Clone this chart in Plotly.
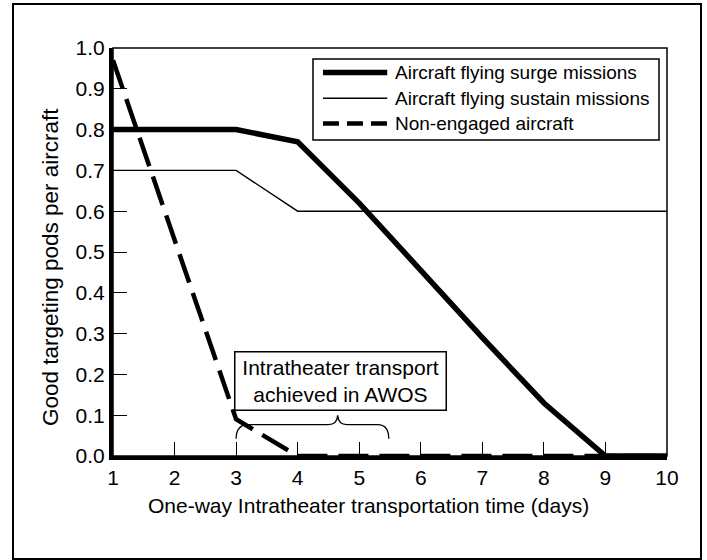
import plotly.graph_objects as go

# ---- data ----
days = [1, 2, 3, 4, 5, 6, 7, 8, 9, 10]
surge = [0.80, 0.80, 0.80, 0.77, 0.62, 0.455, 0.29, 0.13, 0.0, 0.0]
sustain = [0.70, 0.70, 0.70, 0.60, 0.60, 0.60, 0.60, 0.60, 0.60, 0.60]
non_engaged = [0.97, 0.53, 0.09, 0.0, 0.0, 0.0, 0.0, 0.0, 0.0, 0.0]
series_names = ["Aircraft flying surge missions",
                "Aircraft flying sustain missions",
                "Non-engaged aircraft"]
x_ticks = [1, 2, 3, 4, 5, 6, 7, 8, 9, 10]
y_ticks = [0.0, 0.1, 0.2, 0.3, 0.4, 0.5, 0.6, 0.7, 0.8, 0.9, 1.0]
x_title = "One-way Intratheater transportation time (days)"
y_title = "Good targeting pods per aircraft"
note_text = "Intratheater transport<br>achieved in AWOS"
note_pos = (4.70, 0.183)

FONT = "Liberation Sans, Arial, Helvetica, sans-serif"
DASH = "30px,11px"

styles = [dict(width=5.5, dash="solid"),
          dict(width=1.4, dash="solid"),
          dict(width=4.5, dash=DASH)]

fig = go.Figure()
for name, ys, st in zip(series_names, [surge, sustain, non_engaged], styles):
    fig.add_trace(go.Scatter(x=days, y=ys, mode="lines", name=name,
                             line=dict(color="black", width=st["width"], dash=st["dash"]),
                             showlegend=False, hoverinfo="skip"))

shapes = []
# outer frame
shapes.append(dict(type="rect", xref="paper", yref="paper",
                   x0=-0.1805, x1=1.0614, y0=-0.2525, y1=1.1078,
                   line=dict(color="black", width=2)))
# plot border (top/right thin)
shapes.append(dict(type="rect", xref="paper", yref="paper",
                   x0=0, x1=1, y0=0, y1=1, line=dict(color="black", width=1.5)))
# legend box
lx0, lx1, ly0, ly1 = 0.361, 0.9856, 0.7745, 0.973
shapes.append(dict(type="rect", xref="paper", yref="paper",
                   x0=lx0, x1=lx1, y0=ly0, y1=ly1,
                   line=dict(color="black", width=1.5), fillcolor="white", layer="below"))
row_y = [0.940, 0.877, 0.815]
legend_dash = ["solid", "solid", "16px,8px"]
for ry, st, ld in zip(row_y, styles, legend_dash):
    shapes.append(dict(type="line", xref="paper", yref="paper",
                       x0=0.379, x1=0.495, y0=ry, y1=ry,
                       line=dict(color="black", width=st["width"], dash=ld)))
# brace under the note
shapes.append(dict(type="path", xref="x", yref="y",
                   path="M 3.0,0.042 Q 3.0,0.077 3.2,0.077 L 4.5,0.077 Q 4.64,0.077 4.65,0.10 "
                        "Q 4.66,0.077 4.8,0.077 L 5.3,0.077 Q 5.48,0.077 5.48,0.042",
                   line=dict(color="black", width=1.3)))

annotations = []
for ry, name in zip(row_y, series_names):
    annotations.append(dict(xref="paper", yref="paper", x=0.506, y=ry, text=name,
                            showarrow=False, xanchor="left", yanchor="middle",
                            font=dict(family=FONT, size=19, color="black")))
annotations.append(dict(xref="x", yref="y", x=note_pos[0], y=note_pos[1], text=note_text,
                        showarrow=False, font=dict(family=FONT, size=21, color="black"),
                        bordercolor="black", borderwidth=1.5, borderpad=3,
                        bgcolor="white", width=204, height=51, align="center"))
# axis titles
annotations.append(dict(xref="paper", yref="paper", x=0.462, y=-0.1225, text=x_title,
                        showarrow=False, xanchor="center", yanchor="middle",
                        font=dict(family=FONT, size=21, color="black")))
annotations.append(dict(xref="paper", yref="paper", x=-0.1137, y=0.463, text=y_title,
                        showarrow=False, xanchor="center", yanchor="middle", textangle=-90,
                        font=dict(family=FONT, size=22.5, color="black")))

fig.update_layout(
    width=707, height=560,
    margin=dict(l=113, r=40, t=48, b=104, autoexpand=False),
    paper_bgcolor="white", plot_bgcolor="white",
    font=dict(family=FONT, size=21, color="black"),
    shapes=shapes, annotations=annotations,
    showlegend=False,
)
fig.update_xaxes(range=[1, 10], tickvals=x_ticks, ticktext=[str(v) for v in x_ticks],
                 ticks="inside", ticklen=14, tickwidth=1.2, tickcolor="black",
                 showgrid=False, zeroline=False, showline=True, linecolor="black", linewidth=4,
                 ticklabelstandoff=0, automargin=False)
fig.update_yaxes(range=[0, 1], tickvals=y_ticks, ticktext=[f"{v:.1f}" for v in y_ticks],
                 ticks="inside", ticklen=14, tickwidth=1.2, tickcolor="black",
                 showgrid=False, zeroline=False, showline=True, linecolor="black", linewidth=4,
                 ticklabelstandoff=0, automargin=False)

fig.write_html("out.html", config={"displayModeBar": False},
               post_script="document.body.style.margin='0';document.body.style.overflow='hidden';")
